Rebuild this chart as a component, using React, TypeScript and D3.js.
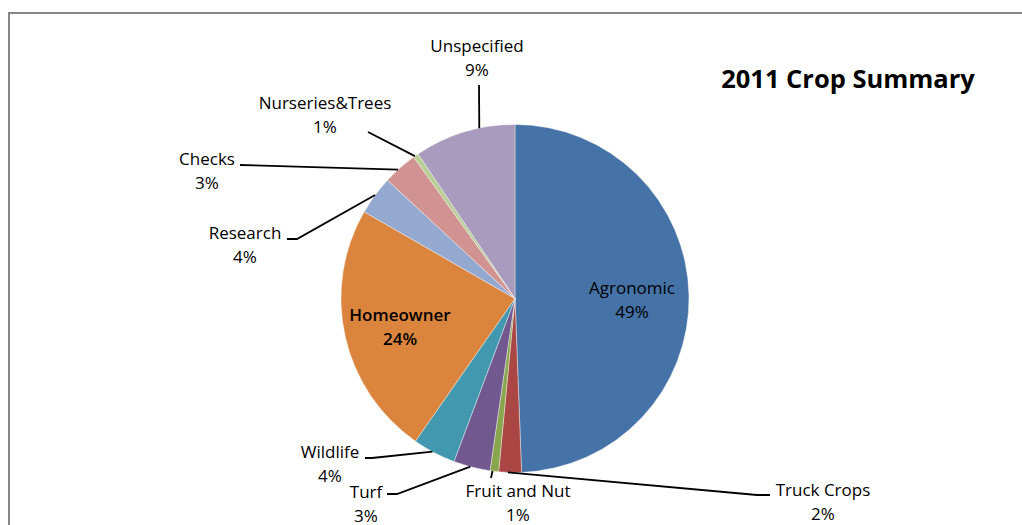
import * as d3 from "d3";

const categories = [
  "Agronomic",
  "Truck Crops",
  "Fruit and Nut",
  "Turf",
  "Wildlife",
  "Homeowner",
  "Research",
  "Checks",
  "Nurseries&Trees",
  "Unspecified",
];
const shares = [49.4, 2.1, 0.8, 3.4, 4.0, 23.6, 3.6, 3.2, 0.5, 9.4];
const colors = [
  "#4572A7",
  "#AA4643",
  "#89A54E",
  "#71588F",
  "#4198AF",
  "#DB843D",
  "#93A9CF",
  "#D19392",
  "#B9CD96",
  "#A99BBD",
];

// label layout (Excel placed these by hand-ish)
type LabelSpot = {
  x: number;
  y: number;
  inside?: boolean;
  bold?: boolean;
  anchorT?: number; // where the leader hits the slice (0..1 along the slice)
  leader?: [number, number][]; // label-side points of the leader
};
const labelSpots: LabelSpot[] = [
  { x: 632, y: 288, inside: true },
  { x: 823, y: 490, anchorT: 0.6, leader: [[770, 495], [757, 495]] },
  { x: 518, y: 491, anchorT: 0.7, leader: [[491, 478]] },
  { x: 366, y: 492, anchorT: 0.54, leader: [[387, 494], [397, 494]] },
  { x: 330, y: 452, anchorT: 0.54, leader: [[365, 458], [372, 458]] },
  { x: 400, y: 315, inside: true, bold: true },
  { x: 245, y: 233, anchorT: 0.51, leader: [[287, 239], [297, 239]] },
  { x: 207, y: 159, anchorT: 0.43, leader: [[240, 165]] },
  { x: 325, y: 103, anchorT: 0.3, leader: [[368, 132]] },
  { x: 477, y: 46, anchorT: 0.65, leader: [[479, 85]] },
];

const W = 1022;
const H = 525;
const cx = 515;
const cy = 298.5;
const radius = 174;

export default function App() {
  const pie = d3
    .pie<number>()
    .sort(null)
    .value((d) => d);
  const arcs = pie(shares);
  const arc = d3.arc<d3.PieArcDatum<number>>().innerRadius(0).outerRadius(radius);

  const font = "'Open Sans', 'DejaVu Sans', sans-serif";

  return (
    <svg
      width={W}
      height={H}
      style={{ position: "absolute", left: 0, top: 0, background: "#fff" }}
    >
      <rect x={9} y={13} width={W + 20} height={H + 20} fill="#fff" stroke="#878787" strokeWidth={2} />

      <g transform={`translate(${cx},${cy})`}>
        {arcs.map((a, i) => (
          <path key={i} d={arc(a) || ""} fill={colors[i]} stroke="#fff" strokeWidth={0.4} />
        ))}
      </g>

      {arcs.map((a, i) => {
        const spot = labelSpots[i];
        if (!spot.leader) return null;
        const t = spot.anchorT ?? 0.5;
        const ang = a.startAngle + (a.endAngle - a.startAngle) * t;
        const end: [number, number] = [cx + radius * Math.sin(ang), cy - radius * Math.cos(ang)];
        const pts = [...spot.leader, end];
        return (
          <path
            key={"l" + i}
            d={d3.line()(pts) || ""}
            fill="none"
            stroke="#000"
            strokeWidth={1.8}
          />
        );
      })}

      {categories.map((c, i) => {
        const spot = labelSpots[i];
        return (
          <text
            key={"t" + i}
            x={spot.x}
            y={spot.y}
            textAnchor="middle"
            fontFamily={font}
            fontSize={17}
            fontWeight={spot.bold ? 600 : 400}
            fill="#000"
          >
            <tspan x={spot.x} dy="0.35em">{c}</tspan>
            <tspan x={spot.x} dy={24}>{Math.round(shares[i]) + "%"}</tspan>
          </text>
        );
      })}

      <text
        x={848}
        y={88}
        textAnchor="middle"
        fontFamily={font}
        fontSize={25.5}
        fontWeight={700}
        fill="#000"
      >
        2011 Crop Summary
      </text>
    </svg>
  );
}
